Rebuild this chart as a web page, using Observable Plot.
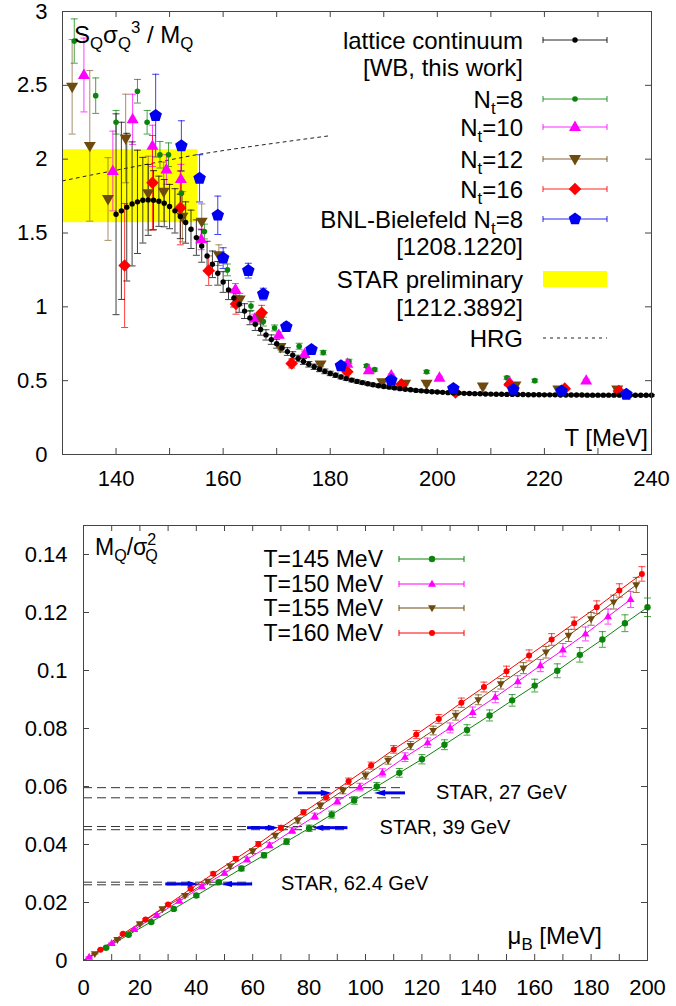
<!DOCTYPE html>
<html><head><meta charset="utf-8">
<script src="https://cdn.jsdelivr.net/npm/d3@7"></script>
<script src="https://cdn.jsdelivr.net/npm/@observablehq/plot@0.6"></script>
<style>
body{margin:0;background:#fff;}
#chart svg{display:block;}
</style></head><body><div id="chart"></div>
<script>
// ================= DATA: top panel =================
const contT = [140,141,142,143,144,145,146,147,148,149,150,151,152,153,154,155,156,157,158,159,160,161,162,163,164,165,166,167,168,169,170,171,172,173,174,175,176,177,178,179,180,181,182,183,184,185,186,187,188,189,190,191,192,193,194,195,196,197,198,199,200,201,202,203,204,205,206,207,208,209,210,211,212,213,214,215,216,217,218,219,220,221,222,223,224,225,226,227,228,229,230,231,232,233,234,235,236,237,238,239,240];
const contV = [1.627,1.650,1.675,1.697,1.711,1.722,1.724,1.722,1.715,1.702,1.679,1.650,1.612,1.571,1.525,1.469,1.412,1.344,1.288,1.227,1.168,1.114,1.059,1.018,0.971,0.925,0.882,0.846,0.810,0.778,0.750,0.722,0.697,0.672,0.650,0.630,0.611,0.594,0.578,0.563,0.549,0.537,0.525,0.514,0.504,0.495,0.487,0.479,0.472,0.466,0.461,0.456,0.451,0.446,0.442,0.438,0.434,0.431,0.428,0.425,0.423,0.421,0.419,0.417,0.416,0.414,0.413,0.412,0.411,0.410,0.409,0.408,0.408,0.407,0.407,0.406,0.406,0.405,0.405,0.405,0.404,0.404,0.404,0.403,0.403,0.403,0.403,0.403,0.402,0.402,0.402,0.402,0.402,0.402,0.402,0.402,0.401,0.401,0.401,0.401,0.401];
const contE = [0.68,0.60,0.50,0.42,0.35,0.29,0.24,0.20,0.17,0.16,0.15,0.15,0.15,0.14,0.13,0.12,0.11,0.10,0.09,0.08,0.07,0.065,0.06,0.055,0.05,0.046,0.042,0.038,0.035,0.032,0.03,0.028,0.026,0.024,0.022,0.02,0.019,0.018,0.017,0.016,0.015,0.014,0.013,0.012,0.012,0.011,0.011,0.010,0.010,0.009,0.009,0.008,0.008,0.008,0.007,0.007,0.007,0.007,0.006,0.006,0.006,0.006,0.006,0.006,0.006,0.006,0.006,0.006,0.005,0.005,0.005,0.005,0.005,0.005,0.005,0.005,0.005,0.005,0.005,0.005,0.005,0.005,0.005,0.005,0.005,0.005,0.005,0.005,0.005,0.005,0.005,0.005,0.005,0.005,0.005,0.005,0.005,0.005,0.005,0.005,0.005];

const nt8T = [132.2,136.2,140.0,144.0,145.8,148.2,149.8,152.2,156.5,160.8,165.2,167.5,169.6,174.2,178.7,183.5,186.8,188.3,198.0,213.0,218.2];
const nt8V = [2.80,2.43,2.25,2.46,2.25,2.03,2.03,1.77,1.51,1.25,1.005,0.90,0.857,0.733,0.69,0.63,0.60,0.575,0.56,0.52,0.50];
const nt8E = [0.15,0.12,0.08,0.08,0.08,0.09,0.08,0.08,0.05,0.04,0.03,0.03,0.02,0.02,0.015,0.015,0.01,0.01,0.01,0.01,0.01];

const nt10T = [134.0,139.4,143.1,146.8,149.4,152.1,155.9,162.3,165.9,170.4,175.2,183.2,187.2,191.4,200.4,213.5,227.8];
const nt10V = [2.57,1.92,2.27,2.09,1.93,1.865,1.457,1.118,0.92,0.81,0.68,0.615,0.57,0.536,0.52,0.489,0.50];
const nt10E = [0.25,0.27,0.17,0.14,0.10,0.10,0.07,0.04,0.03,0.02,0.02,0.015,0.01,0.01,0.01,0.01,0.01];

const nt12T = [131.8,135.1,138.5,141.8,146.0,148.9,152.4,156.0,159.2,163.1,167.0,170.7,178.2,189.7,194.0,198.0,208.5,214.6,222.6,233.6];
const nt12V = [2.49,2.09,1.73,2.14,1.77,1.78,1.61,1.577,1.35,1.05,0.928,0.728,0.61,0.49,0.48,0.48,0.46,0.468,0.44,0.44];
const nt12E = [0.32,0.51,0.28,0.30,0.25,0.20,0.17,0.12,0.07,0.04,0.03,0.02,0.015,0.01,0.01,0.01,0.01,0.01,0.01,0.01];

const nt16T = [141.6,146.8,152.0,157.3,162.4,167.2,172.8,183.2,193.3,203.4,213.5,223.8,233.9];
const nt16V = [1.28,1.84,1.67,1.245,1.02,0.96,0.616,0.56,0.475,0.42,0.475,0.446,0.43];
const nt16E = [0.42,0.32,0.25,0.10,0.07,0.05,0.03,0.015,0.01,0.01,0.01,0.01,0.01];

const bnlT = [147.4,152.2,155.6,159.0,160.0,164.7,167.5,171.8,176.5,182.0,191.4,203.0,214.2,223.2,235.3];
const bnlV = [2.295,2.09,1.87,1.62,1.33,1.245,1.086,0.865,0.71,0.60,0.502,0.446,0.44,0.43,0.407];
const bnlE = [0.28,0.17,0.16,0.13,0.07,0.05,0.04,0.03,0.02,0.015,0.01,0.01,0.01,0.01,0.01];

const starBandT = [130, 155.3];
const starBandV = [1.57, 2.064];

const hrgT = [130,135,140,145,150,155,160,165,170,175,180];
const hrgV = [1.853,1.89,1.925,1.96,1.995,2.03,2.058,2.085,2.11,2.135,2.159];

const topXTickLabels = [140,160,180,200,220,240];
const topYTickLabels = [0,0.5,1,1.5,2,2.5,3];
const topXTicks = [140,150,160,170,180,190,200,210,220,230];
const topYTicks = [0.5,1,1.5,2,2.5];

// ================= DATA: bottom panel =================
const mu145 = [8,16,24,32,40,48,56,64,72,80,88,96,104,112,120,128,136,144,152,160,168,176,184,192,200];
const mq145 = [0.0044,0.0089,0.0133,0.0178,0.0224,0.0270,0.0317,0.0363,0.0410,0.0456,0.0503,0.0552,0.0600,0.0647,0.0694,0.0744,0.0795,0.0845,0.0897,0.0948,0.0999,0.1054,0.1107,0.1163,0.1218];
const er145 = [0.0002,0.0003,0.0004,0.0005,0.0006,0.0007,0.0008,0.0009,0.0010,0.0011,0.0012,0.0013,0.0014,0.0015,0.0016,0.0017,0.0018,0.0019,0.0020,0.0022,0.0024,0.0025,0.0027,0.0029,0.0032];

const mu150 = [2,10,18,26,34,42,50,58,66,74,82,90,98,106,114,122,130,138,146,154,162,170,178,186,194];
const mq150 = [0.0012,0.0059,0.0107,0.0156,0.0205,0.0255,0.0301,0.0348,0.0397,0.0448,0.0497,0.0549,0.0598,0.0647,0.0701,0.0751,0.0802,0.0856,0.0908,0.0962,0.1017,0.1071,0.1126,0.1186,0.1245];
const er150 = [0.0001,0.0002,0.0003,0.0004,0.0005,0.0006,0.0007,0.0008,0.0009,0.0010,0.0011,0.0012,0.0013,0.0014,0.0015,0.0016,0.0017,0.0018,0.0019,0.0020,0.0021,0.0022,0.0024,0.0026,0.0028];

const mu155 = [4,12,20,28,36,44,52,60,68,76,84,92,100,108,116,124,132,140,148,156,164,172,180,188,196];
const mq155 = [0.0023,0.0072,0.0126,0.0178,0.0224,0.0273,0.0325,0.0377,0.0431,0.0483,0.0534,0.0586,0.0638,0.0690,0.0741,0.0793,0.0845,0.0899,0.0954,0.1008,0.1063,0.1121,0.1178,0.1236,0.1295];
const er155 = [0.0001,0.0002,0.0003,0.0004,0.0005,0.0006,0.0007,0.0008,0.0008,0.0009,0.0010,0.0011,0.0012,0.0013,0.0014,0.0015,0.0016,0.0017,0.0018,0.0019,0.0020,0.0021,0.0022,0.0024,0.0026];

const mu160 = [6,14,22,30,38,46,54,62,70,78,86,94,102,110,118,126,134,142,150,158,166,174,182,190,198];
const mq160 = [0.0037,0.0092,0.0141,0.0193,0.0247,0.0299,0.0351,0.0402,0.0458,0.0511,0.0563,0.0618,0.0672,0.0728,0.0779,0.0833,0.0889,0.0943,0.0997,0.1052,0.1107,0.1163,0.1218,0.1276,0.1333];
const er160 = [0.0001,0.0002,0.0003,0.0004,0.0005,0.0006,0.0007,0.0008,0.0008,0.0009,0.0010,0.0011,0.0012,0.0013,0.0014,0.0015,0.0016,0.0017,0.0018,0.0019,0.0020,0.0021,0.0022,0.0023,0.0025];

const botLegend = ["T=145 MeV","T=150 MeV","T=155 MeV","T=160 MeV"];

const starText = ["STAR, 27 GeV","STAR, 39 GeV","STAR, 62.4 GeV"];
const starY = [0.0578, 0.0458, 0.0264];
const starLo = [0.0561, 0.0451, 0.0261];
const starHi = [0.0596, 0.0462, 0.0270];
const starDashEnd = [114, 93.6, 59.8];
const starRightFrom = [76, 58, 29];
const starRightTo = [87.6, 68.8, 40.4];
const starLeftFrom = [114, 93.6, 59.8];
const starLeftTo = [103.5, 81.6, 49.2];
const starTextX = [125, 105, 70];

const botXTickLabels = [0,20,40,60,80,100,120,140,160,180,200];
const botYTickLabels = [0,0.02,0.04,0.06,0.08,0.1,0.12,0.14];
const botXTicks = [10,20,30,40,50,60,70,80,90,100,110,120,130,140,150,160,170,180,190];
const botYTicks = [0.02,0.04,0.06,0.08,0.1,0.12,0.14];

// ================= STYLE =================
const FONT = "'Liberation Sans', Arial, Helvetica, sans-serif";
const AX = "#444";
const C = {black:"#000000", green:"#0b840b", magenta:"#ff00ff", brown:"#6e4a0e", red:"#ff0000", blue:"#0000ee", yellow:"#ffff00"};

const rOf = s => Math.sqrt(s/Math.PI);
const SYM = {
  circle:{draw(c,s){const r=rOf(s); c.moveTo(r,0); c.arc(0,0,r,0,2*Math.PI); c.closePath();}},
  up:{draw(c,s){const r=rOf(s), h=r*Math.sqrt(3); c.moveTo(0,-h*0.62); c.lineTo(r,h*0.38); c.lineTo(-r,h*0.38); c.closePath();}},
  down:{draw(c,s){const r=rOf(s), h=r*Math.sqrt(3); c.moveTo(0,h*0.62); c.lineTo(r,-h*0.38); c.lineTo(-r,-h*0.38); c.closePath();}},
  diamond:{draw(c,s){const r=rOf(s); c.moveTo(0,-r); c.lineTo(r,0); c.lineTo(0,r); c.lineTo(-r,0); c.closePath();}},
  pentagon:{draw(c,s){const r=rOf(s); for(let i=0;i<5;i++){const a=-Math.PI/2+i*2*Math.PI/5; const x=r*Math.cos(a), y=r*Math.sin(a); if(i===0)c.moveTo(x,y); else c.lineTo(x,y);} c.closePath();}},
  cap:{draw(c,s){const r=rOf(s); c.moveTo(-r,0); c.lineTo(r,0);}},
  headR:{draw(c,s){const r=rOf(s); c.moveTo(r,0); c.lineTo(-r,-r*0.55); c.lineTo(-r,r*0.55); c.closePath();}},
  headL:{draw(c,s){const r=rOf(s); c.moveTo(-r,0); c.lineTo(r,-r*0.55); c.lineTo(r,r*0.55); c.closePath();}}
};

const rows = (X,V,E) => X.map((x,i)=>({x, v:V[i], e:E[i]}));

function errMarks(data, color, capR, op) {
  const o = op ?? 0.75;
  return [
    Plot.ruleX(data, {x:"x", y1:d=>d.v-d.e, y2:d=>d.v+d.e, stroke:color, strokeWidth:1, strokeOpacity:o}),
    Plot.dot(data, {x:"x", y:d=>d.v-d.e, symbol:SYM.cap, r:capR, stroke:color, fill:"none", strokeWidth:1, strokeOpacity:o}),
    Plot.dot(data, {x:"x", y:d=>d.v+d.e, symbol:SYM.cap, r:capR, stroke:color, fill:"none", strokeWidth:1, strokeOpacity:o})
  ];
}
function ptMarks(data, color, sym, r) {
  return Plot.dot(data, {x:"x", y:"v", symbol:sym, r, fill:color, stroke:"none"});
}

// rich text with sub/superscripts
function rich(sel, x, y, parts, size, anchor) {
  const t = sel.append("text").attr("x",x).attr("y",y).attr("font-size",size)
    .attr("font-family",FONT).attr("text-anchor",anchor||"start").attr("fill","#000");
  let off = 0;
  for (const p of parts) {
    const [s, kind, dx] = p;
    const fs = kind ? size*0.7 : size;
    const target = kind==="sub" ? size*0.26 : kind==="sup" ? -size*0.42 : 0;
    const ts = t.append("tspan").attr("font-size", fs).attr("dy", target-off).text(s);
    if (dx) ts.attr("dx", dx);
    off = target;
  }
  return t;
}

const chart = document.getElementById("chart");

// ================= TOP PANEL =================
const TW = 676, TH = 495, TML = 62, TMR = 25, TMT = 11, TMB = 41;
const tIH = TH-TMT-TMB, tIW = TW-TML-TMR;
const d8 = rows(nt8T,nt8V,nt8E), d10 = rows(nt10T,nt10V,nt10E), d12 = rows(nt12T,nt12V,nt12E),
      d16 = rows(nt16T,nt16V,nt16E), dB = rows(bnlT,bnlV,bnlE), dC = rows(contT,contV,contE);

const topPlot = Plot.plot({
  width: TW, height: TH, marginLeft: TML, marginRight: TMR, marginTop: TMT, marginBottom: TMB,
  style: {fontFamily: FONT, fontSize: "22px", color: "#000", background: "#fff", overflow: "visible"},
  x: {domain: [130, 240]},
  y: {domain: [0, 3]},
  marks: [
    Plot.rect([{x1:starBandT[0], x2:starBandT[1], y1:starBandV[0], y2:starBandV[1]}], {x1:"x1", x2:"x2", y1:"y1", y2:"y2", fill:C.yellow}),
    Plot.line(hrgT.map((t,i)=>({t, v:hrgV[i]})), {x:"t", y:"v", stroke:"#222", strokeWidth:1, strokeDasharray:"3,4"}),
    ...errMarks(d8, C.green, 3.5),
    ...errMarks(d10, C.magenta, 3.5),
    ...errMarks(d12, "#8a6a35", 3.5),
    ...errMarks(d16, C.red, 3.5),
    ...errMarks(dC, "#111", 3.5, 0.8),
    ...errMarks(dB, C.blue, 3.5),
    ptMarks(d8, C.green, SYM.circle, 2.8),
    ptMarks(d10, C.magenta, SYM.up, 6),
    ptMarks(d12, C.brown, SYM.down, 6),
    ptMarks(d16, C.red, SYM.diamond, 6.3),
    ptMarks(dC, C.black, SYM.circle, 2.7),
    ptMarks(dB, C.blue, SYM.pentagon, 6.6),
    Plot.tickX(topXTicks, {x:d=>d, insetTop:tIH-6, stroke:AX}),
    Plot.tickX(topXTicks, {x:d=>d, insetBottom:tIH-6, stroke:AX}),
    Plot.tickY(topYTicks, {y:d=>d, insetRight:tIW-6, stroke:AX}),
    Plot.tickY(topYTicks, {y:d=>d, insetLeft:tIW-6, stroke:AX}),
    Plot.frame({stroke:AX}),
    Plot.axisX({ticks:topXTickLabels, tickSize:0, tickPadding:16, tickFormat:d=>String(d), label:null}),
    Plot.axisY({ticks:topYTickLabels, tickSize:0, tickPadding:15, tickFormat:d=>String(d), label:null})
  ]
});
chart.appendChild(topPlot);

{
  const s = d3.select(topPlot);
  rich(s, 74, 43, [["S"],["Q","sub"],["σ"],["Q","sub"],["3","sup"],[" / M"],["Q","sub"]], 24);
  rich(s, 648, 446, [["T [MeV]"]], 24, "end");
  const L = {tx: 523, x1: 543, x2: 607, sx: 575, fs: 24};
  const g = s.append("g");
  const errEntry = (y, color, sym, r) => {
    g.append("line").attr("x1",L.x1).attr("x2",L.x2).attr("y1",y).attr("y2",y).attr("stroke",color).attr("stroke-width",1).attr("stroke-opacity",0.85);
    for (const xx of [L.x1, L.x2]) g.append("line").attr("x1",xx).attr("x2",xx).attr("y1",y-3).attr("y2",y+3).attr("stroke",color).attr("stroke-opacity",0.85);
    g.append("path").attr("transform",`translate(${L.sx},${y})`).attr("d", d3.symbol().type(sym).size(Math.PI*r*r)()).attr("fill",color);
  };
  const ents = [
    {y:40, parts:[["lattice continuum"]], c:C.black, sym:SYM.circle, r:2.7},
    {y:67, parts:[["[WB, this work]"]]},
    {y:99, parts:[["N"],["t","sub"],["=8"]], c:C.green, sym:SYM.circle, r:2.8},
    {y:127, parts:[["N"],["t","sub"],["=10"]], c:C.magenta, sym:SYM.up, r:6},
    {y:159, parts:[["N"],["t","sub"],["=12"]], c:C.brown, sym:SYM.down, r:6},
    {y:189, parts:[["N"],["t","sub"],["=16"]], c:C.red, sym:SYM.diamond, r:6.3},
    {y:219, parts:[["BNL-Bielefeld N"],["t","sub"],["=8"]], c:C.blue, sym:SYM.pentagon, r:6.6},
    {y:246, parts:[["[1208.1220]"]]},
    {y:279, parts:[["STAR preliminary"]], band:true},
    {y:307, parts:[["[1212.3892]"]]},
    {y:338, parts:[["HRG"]], dash:true}
  ];
  for (const e of ents) {
    rich(g, L.tx, e.y + 0.36*L.fs, e.parts, L.fs, "end");
    if (e.c) errEntry(e.y, e.c, e.sym, e.r);
    if (e.band) g.append("rect").attr("x",L.x1).attr("y",e.y-8).attr("width",L.x2-L.x1).attr("height",16).attr("fill",C.yellow);
    if (e.dash) g.append("line").attr("x1",L.x1).attr("x2",L.x2).attr("y1",e.y).attr("y2",e.y).attr("stroke","#222").attr("stroke-dasharray","3,4");
  }
}

// ================= BOTTOM PANEL =================
const BW = 676, BH = 511, BML = 83, BMR = 29, BMT = 30, BMB = 46;
const bIH = BH-BMT-BMB, bIW = BW-BML-BMR;
const b145 = rows(mu145,mq145,er145), b150 = rows(mu150,mq150,er150), b155 = rows(mu155,mq155,er155), b160 = rows(mu160,mq160,er160);
const withOrigin = d => [{x:0, v:0}, ...d];
const star = starText.map((t,i)=>({t, y:starY[i], lo:starLo[i], hi:starHi[i], de:starDashEnd[i], rf:starRightFrom[i], rt:starRightTo[i], lf:starLeftFrom[i], lt:starLeftTo[i], tx:starTextX[i]}));

const botPlot = Plot.plot({
  width: BW, height: BH, marginLeft: BML, marginRight: BMR, marginTop: BMT, marginBottom: BMB,
  style: {fontFamily: FONT, fontSize: "22px", color: "#000", background: "#fff", overflow: "visible"},
  x: {domain: [0, 200]},
  y: {domain: [0, 0.15]},
  marks: [
    Plot.ruleY(star, {y:"hi", x1:0, x2:"de", stroke:"#333", strokeWidth:1, strokeDasharray:"9,5"}),
    Plot.ruleY(star, {y:"lo", x1:0, x2:"de", stroke:"#333", strokeWidth:1, strokeDasharray:"9,5"}),
    Plot.line(withOrigin(b145), {x:"x", y:"v", stroke:C.green, strokeWidth:1}),
    Plot.line(withOrigin(b150), {x:"x", y:"v", stroke:C.magenta, strokeWidth:1}),
    Plot.line(withOrigin(b155), {x:"x", y:"v", stroke:C.brown, strokeWidth:1}),
    Plot.line(withOrigin(b160), {x:"x", y:"v", stroke:C.red, strokeWidth:1}),
    ...errMarks(b145, C.green, 3.5),
    ...errMarks(b150, C.magenta, 3.5),
    ...errMarks(b155, C.brown, 3.5),
    ...errMarks(b160, C.red, 3.5),
    ptMarks(b145, C.green, SYM.circle, 3.2),
    ptMarks(b150, C.magenta, SYM.up, 4),
    ptMarks(b155, C.brown, SYM.down, 4),
    ptMarks(b160, C.red, SYM.circle, 3),
    Plot.link(star, {x1:"rf", x2:d=>d.rt-2, y1:"y", y2:"y", stroke:C.blue, strokeWidth:3}),
    Plot.link(star, {x1:"lf", x2:d=>d.lt+2, y1:"y", y2:"y", stroke:C.blue, strokeWidth:3}),
    Plot.dot(star, {x:d=>d.rt-1.5, y:"y", symbol:SYM.headR, r:5.5, fill:C.blue, stroke:"none"}),
    Plot.dot(star, {x:d=>d.lt+1.5, y:"y", symbol:SYM.headL, r:5.5, fill:C.blue, stroke:"none"}),
    Plot.text(star, {x:"tx", y:"y", text:"t", textAnchor:"start", fontSize:20, fill:"#000"}),
    Plot.tickX(botXTicks, {x:d=>d, insetTop:bIH-6, stroke:AX}),
    Plot.tickX(botXTicks, {x:d=>d, insetBottom:bIH-6, stroke:AX}),
    Plot.tickY(botYTicks, {y:d=>d, insetRight:bIW-6, stroke:AX}),
    Plot.tickY(botYTicks, {y:d=>d, insetLeft:bIW-6, stroke:AX}),
    Plot.frame({stroke:AX}),
    Plot.axisX({ticks:botXTickLabels, tickSize:0, tickPadding:19, tickFormat:d=>String(d), label:null}),
    Plot.axisY({ticks:botYTickLabels, tickSize:0, tickPadding:16, tickFormat:d=>String(d), label:null})
  ]
});
chart.appendChild(botPlot);

{
  const s = d3.select(botPlot);
  rich(s, 95, 60, [["M"],["Q","sub"],["/σ"],["2","sup"],["Q","sub","-11"]], 23);
  rich(s, 602, 449, [["μ"],["B","sub"],[" [MeV]"]], 24, "end");
  const L = {tx: 383, x1: 399, x2: 464, sx: 432, fs: 23};
  const cols = [C.green, C.magenta, C.brown, C.red];
  const syms = [[SYM.circle,3.2],[SYM.up,4],[SYM.down,4],[SYM.circle,3]];
  const ys = [64, 89, 113, 138];
  botLegend.forEach((lab, i) => {
    const y = ys[i], c = cols[i];
    rich(s, L.tx, y + 0.36*L.fs, [[lab]], L.fs, "end");
    s.append("line").attr("x1",L.x1).attr("x2",L.x2).attr("y1",y).attr("y2",y).attr("stroke",c).attr("stroke-width",1);
    for (const xx of [L.x1, L.x2]) s.append("line").attr("x1",xx).attr("x2",xx).attr("y1",y-3).attr("y2",y+3).attr("stroke",c);
    s.append("path").attr("transform",`translate(${L.sx},${y})`).attr("d", d3.symbol().type(syms[i][0]).size(Math.PI*syms[i][1]**2)()).attr("fill",c);
  });
}
</script>
</body></html>
